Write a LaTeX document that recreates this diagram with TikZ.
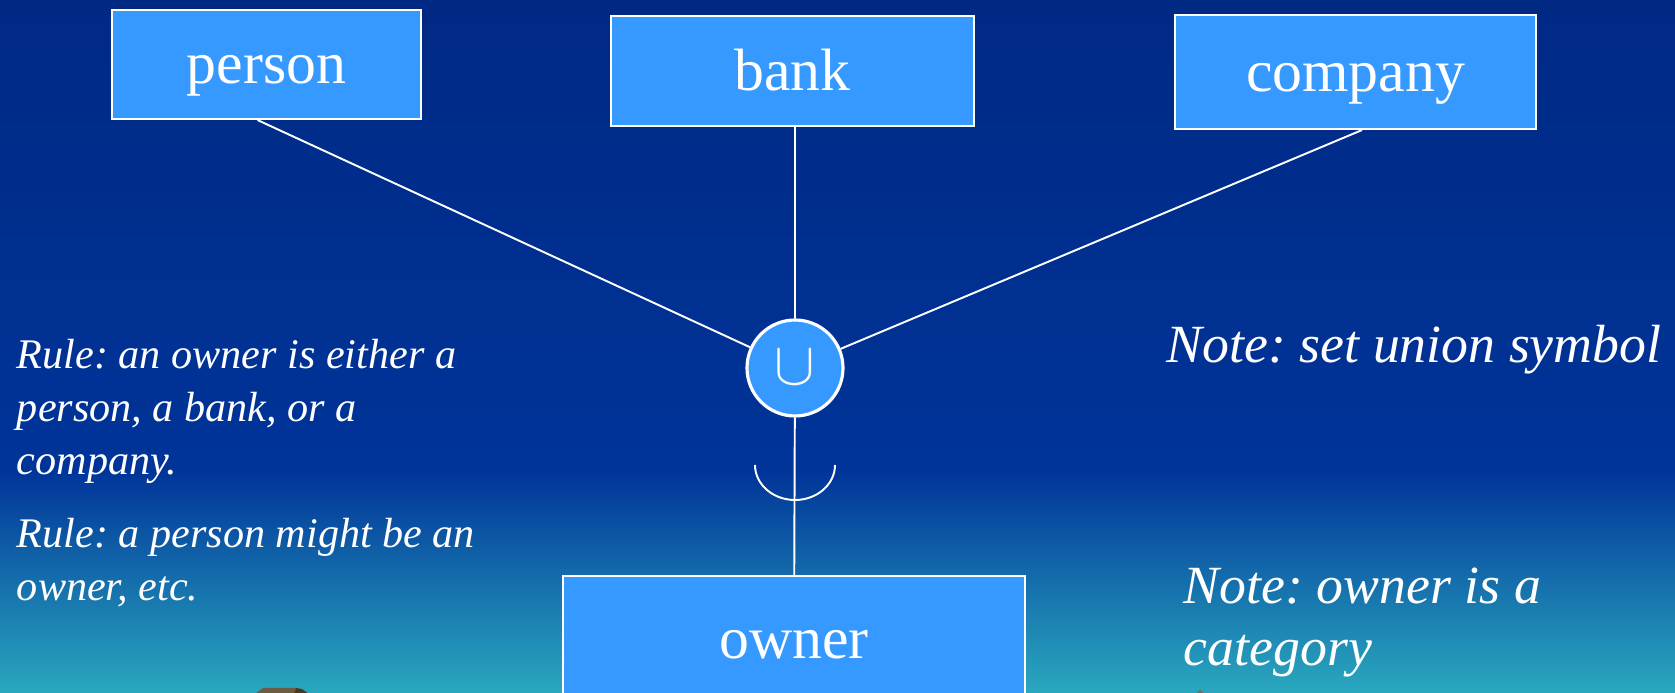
\documentclass[tikz,border=0pt]{standalone}
\usepackage{fontspec}
\setmainfont{Liberation Serif}
\frenchspacing
\usepackage{tikz}
\usetikzlibrary{positioning}
\definecolor{bgTop}{RGB}{0,41,132}
\definecolor{bgMid}{RGB}{0,52,153}
\definecolor{bgLow}{RGB}{42,168,190}
\definecolor{boxBlue}{RGB}{54,153,255}
\tikzstyle{entBox} = [draw=white, line width=0.6pt, fill=boxBlue, rectangle,
   text=white, text height=12pt, text depth=1pt, font=\fontsize{17}{20}\selectfont]
\tikzstyle{unionCirc} = [draw=white, line width=0.9pt, fill=boxBlue, circle,
   minimum size=9.6mm, inner sep=0pt, text=white]
\tikzstyle{ruleText} = [text=white, align=left, inner sep=0pt, anchor=base west,
   font=\fontsize{12}{15.2}\selectfont\itshape]
\tikzstyle{noteText} = [text=white, align=left, inner sep=0pt, anchor=base west,
   font=\fontsize{15.3}{17.9}\selectfont\itshape]

\begin{document}
\begin{tikzpicture}[x=0.1mm, y=-0.1mm, line width=0.55pt, white]
  \useasboundingbox (0,0) rectangle (1675,693);
  % background
  \fill[top color=bgTop, bottom color=bgMid] (0,0) rectangle (1675,471);
  \fill[top color=bgMid, bottom color=bgLow] (0,470) rectangle (1675,693);
  % bits of clip art cut off at the bottom
  \fill[color={rgb,255:red,108;green,92;blue,66}] (255,694) -- (263,688) -- (296,688) -- (300,694) -- cycle;
  \fill[color={rgb,255:red,74;green,57;blue,26}] (294,694) -- (296,688) -- (302,689) -- (309,694) -- cycle;
  \fill[color={rgb,255:red,120;green,108;blue,90}] (1195,694) -- (1200,690) -- (1205,694) -- cycle;

  \node[entBox, minimum width=30.9mm, minimum height=10.9mm] (p) at (266.5,64.5) {person};
  \node[entBox, minimum width=36.3mm, minimum height=11mm] (b) at (792.5,71) {bank};
  \node[entBox, minimum width=36.1mm, minimum height=11.4mm] (c) at (1355.5,72) {company};
  \node[unionCirc] (u) at (795,368) {\fontsize{16}{16}\selectfont$\cup$};
  \node[entBox, minimum width=46.2mm, minimum height=12.6mm] (o) at (794,639) {owner};
  \coordinate (cupL) at (755,465);

  % connectors
  \draw ([xshift=-0.9mm]p.south) -- (u);
  \draw ([xshift=0.25mm]b.south) -- (u);
  \draw ([xshift=0.65mm]c.south) -- (u);
  \draw (u) -- (o);
  \draw (cupL) arc[start angle=180, end angle=0, x radius=40, y radius=35];

  % notes
  \node[ruleText] (r1) at (16,475) {Rule: an owner is either a\\person, a bank, or a\\company.};
  \node[ruleText] (r2) at (16,601) {Rule: a person might be an\\owner, etc.};
  \node[noteText] (n1) at (1166,363) {Note: set union symbol};
  \node[noteText] (n2) at (1183,666) {Note: owner is a\\category};
\end{tikzpicture}
\end{document}
